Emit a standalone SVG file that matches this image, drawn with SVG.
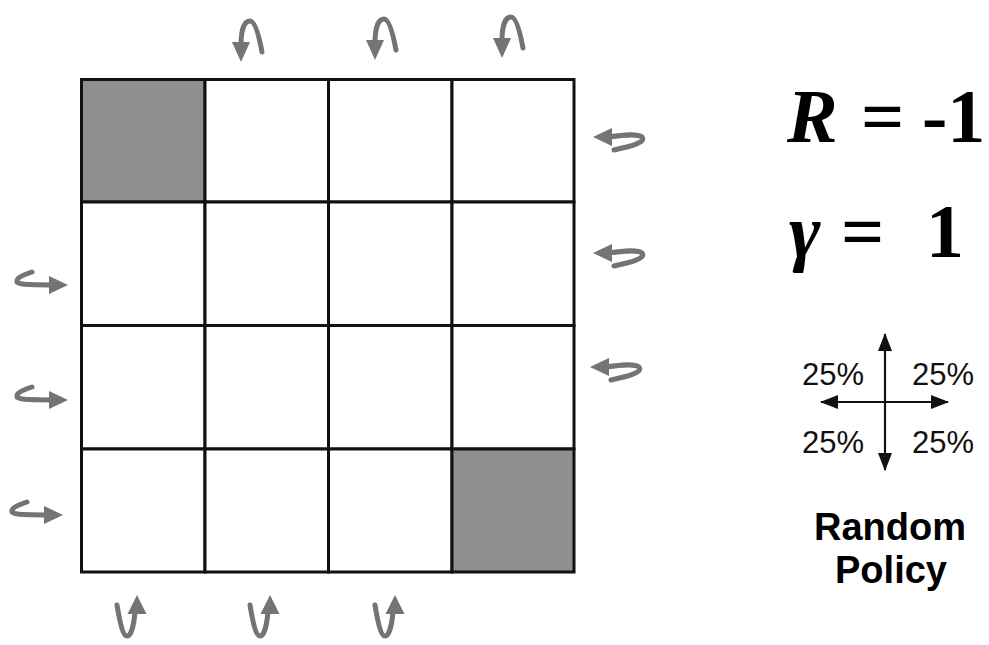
<svg xmlns="http://www.w3.org/2000/svg" xmlns:xlink="http://www.w3.org/1999/xlink" width="989" height="645" viewBox="0 0 989 645">
<style>
.cell{fill:#ffffff;stroke:#111111;stroke-width:3}
.term{fill:#8f8f8f;stroke:#111111;stroke-width:3}
.shaft{fill:none;stroke:#747474;stroke-width:5;stroke-linecap:round}
.head{fill:#747474;stroke:none}
.eq{font-family:"Liberation Serif","Times New Roman",serif;font-weight:bold;font-size:76px;fill:#000}
.pct{font-family:"Liberation Sans",Arial,sans-serif;font-size:31px;fill:#111}
.lbl{font-family:"Liberation Sans",Arial,sans-serif;font-weight:bold;font-size:38px;fill:#000;text-anchor:middle}
.ax{stroke:#111;stroke-width:2.2;fill:none}
</style>
<defs>
<g id="loopTop"><path class="shaft" d="M21,-10 C18,-26 14,-41 9,-41 C3,-41 0,-31 0,-17"/><path class="head" d="M-9,-20 L9,-20 L0,0 Z"/></g>
<g id="loopBottom"><path class="shaft" d="M-2,16 C-3,30 -6,41 -10,41 C-14,41 -17,28 -20,10"/><path class="head" d="M0,0 L-9.5,19 L9.5,19 Z"/></g>
<g id="loopRight"><path class="shaft" d="M16,0 C30,-2 44,-4 49,0 C53,5 40,9 21,13"/><path class="head" d="M0,0 L19,-9 L19,9 Z"/></g>
<g id="loopLeft"><path class="shaft" d="M-17,0 C-30,0 -49,0 -51,-3 C-52,-7 -45,-10 -36,-13"/><path class="head" d="M0,0 L-19,-9 L-19,9 Z"/></g>
<marker id="ah" viewBox="0 0 18 14" refX="17" refY="7" markerWidth="18" markerHeight="14" markerUnits="userSpaceOnUse" orient="auto"><path d="M0,0 L18,7 L0,14 Z" fill="#111"/></marker>
</defs>
<rect x="0" y="0" width="989" height="645" fill="#ffffff"/>
<g id="grid">
<g id="cell-0-0"><rect class="term" x="81.5" y="79.5" width="123.5" height="122.5"/></g>
<g id="cell-0-1"><rect class="cell" x="205" y="79.5" width="123.5" height="122.5"/></g>
<g id="cell-0-2"><rect class="cell" x="328.5" y="79.5" width="123.5" height="122.5"/></g>
<g id="cell-0-3"><rect class="cell" x="452" y="79.5" width="122" height="122.5"/></g>
<g id="cell-1-0"><rect class="cell" x="81.5" y="202" width="123.5" height="123.5"/></g>
<g id="cell-1-1"><rect class="cell" x="205" y="202" width="123.5" height="123.5"/></g>
<g id="cell-1-2"><rect class="cell" x="328.5" y="202" width="123.5" height="123.5"/></g>
<g id="cell-1-3"><rect class="cell" x="452" y="202" width="122" height="123.5"/></g>
<g id="cell-2-0"><rect class="cell" x="81.5" y="325.5" width="123.5" height="123.5"/></g>
<g id="cell-2-1"><rect class="cell" x="205" y="325.5" width="123.5" height="123.5"/></g>
<g id="cell-2-2"><rect class="cell" x="328.5" y="325.5" width="123.5" height="123.5"/></g>
<g id="cell-2-3"><rect class="cell" x="452" y="325.5" width="122" height="123.5"/></g>
<g id="cell-3-0"><rect class="cell" x="81.5" y="449" width="123.5" height="123"/></g>
<g id="cell-3-1"><rect class="cell" x="205" y="449" width="123.5" height="123"/></g>
<g id="cell-3-2"><rect class="cell" x="328.5" y="449" width="123.5" height="123"/></g>
<g id="cell-3-3"><rect class="term" x="452" y="449" width="122" height="123"/></g>
</g>
<g id="connectors">
<use xlink:href="#loopTop" href="#loopTop" transform="translate(241,62)"/>
<use xlink:href="#loopTop" href="#loopTop" transform="translate(375,60)"/>
<use xlink:href="#loopTop" href="#loopTop" transform="translate(502,58)"/>
<use xlink:href="#loopRight" href="#loopRight" transform="translate(593,137)"/>
<use xlink:href="#loopRight" href="#loopRight" transform="translate(593,253)"/>
<use xlink:href="#loopRight" href="#loopRight" transform="translate(590,367)"/>
<use xlink:href="#loopLeft" href="#loopLeft" transform="translate(68,285)"/>
<use xlink:href="#loopLeft" href="#loopLeft" transform="translate(68,400)"/>
<use xlink:href="#loopLeft" href="#loopLeft" transform="translate(63,515)"/>
<use xlink:href="#loopBottom" href="#loopBottom" transform="translate(137,595)"/>
<use xlink:href="#loopBottom" href="#loopBottom" transform="translate(270,595)"/>
<use xlink:href="#loopBottom" href="#loopBottom" transform="translate(395,595)"/>
</g>
<g id="reward">
<text class="eq" y="142"><tspan x="787" font-style="italic">R</tspan><tspan x="861">=</tspan><tspan x="922">-1</tspan></text>
</g>
<g id="gamma">
<text class="eq" y="257"><tspan x="789" font-style="italic">γ</tspan><tspan x="841">=</tspan><tspan x="926">1</tspan></text>
</g>
<g id="policy">
<line class="ax" x1="885" y1="402" x2="885" y2="334" marker-end="url(#ah)"/>
<line class="ax" x1="885" y1="402" x2="885" y2="470" marker-end="url(#ah)"/>
<line class="ax" x1="885" y1="402" x2="821" y2="402" marker-end="url(#ah)"/>
<line class="ax" x1="885" y1="402" x2="948" y2="402" marker-end="url(#ah)"/>
<text class="pct" x="802" y="385">25%</text>
<text class="pct" x="912" y="385">25%</text>
<text class="pct" x="802" y="453">25%</text>
<text class="pct" x="912" y="453">25%</text>
<text class="lbl" x="890" y="540">Random</text>
<text class="lbl" x="891" y="583">Policy</text>
</g>
</svg>
